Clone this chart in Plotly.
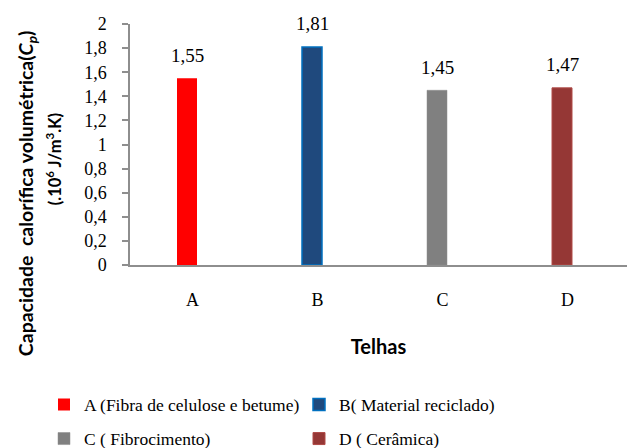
import numpy as np
import plotly.graph_objects as go

# Roof tile samples and their volumetric heat capacity (x10^6 J/m3.K)
categories = ["A", "B", "C", "D"]
legend_names = [
    "A (Fibra de celulose e betume)",
    "B( Material reciclado)",
    "C ( Fibrocimento)",
    "D ( Cerâmica)",
]
values = [1.55, 1.81, 1.45, 1.47]
value_labels = ["1,55", "1,81", "1,45", "1,47"]

fill_colors = ["#FF0000", "#1F497D", "#808080", "#953735"]
edge_colors = ["#FF0000", "#0070C0", "#8C8C8C", "#B04A47"]
edge_widths = [0, 1.5, 0.5, 1]

SERIF = "'Liberation Serif', 'Times New Roman', 'DejaVu Serif', serif"
SANS = "Lato, 'Open Sans', 'Liberation Sans', sans-serif"

W, H = 627, 448
M_L, M_R, M_T, M_B = 130, 0, 23.5, 183
plot_w = W - M_L - M_R
plot_h = H - M_T - M_B
cat_px = 125.0  # pixel width of one category slot
bar_w = 0.16
bar_shift = -0.044

x_idx = np.arange(len(categories))


def py(pixel_y):
    """Convert a page pixel row to paper y."""
    return (M_T + plot_h - pixel_y) / plot_h


def px(pixel_x):
    """Convert a page pixel column to paper x."""
    return (pixel_x - M_L) / plot_w


fig = go.Figure()
legend_ids = ["legend", "legend", "legend2", "legend2"]
for i, name in enumerate(legend_names):
    fig.add_trace(go.Bar(
        x=[x_idx[i] + bar_shift],
        y=[values[i]],
        width=bar_w,
        name=name,
        marker=dict(color=fill_colors[i],
                    line=dict(color=edge_colors[i], width=edge_widths[i])),
        legend=legend_ids[i],
        hoverinfo="skip",
    ))

# value labels above each bar
for i in range(len(categories)):
    fig.add_annotation(
        x=x_idx[i] + bar_shift, y=values[i], text=value_labels[i],
        showarrow=False, yanchor="middle", yshift=23,
        font=dict(family=SERIF, size=19, color="black"),
    )

# two-line y axis title
fig.add_annotation(
    xref="paper", yref="paper", x=px(27), y=py(193),
    text="<b>Capacidade\u00a0\u00a0calorífica volumétrica(<i>C<sub>p</sub></i>)</b>",
    textangle=-90, showarrow=False, xanchor="center", yanchor="middle",
    font=dict(family=SANS, size=19.5, color="black"),
)
fig.add_annotation(
    xref="paper", yref="paper", x=px(54), y=py(159),
    text="<b>(.10<sup>6</sup> J/m<sup>3</sup>.K)</b>",
    textangle=-90, showarrow=False, xanchor="center", yanchor="middle",
    font=dict(family=SANS, size=16.5, color="black"),
)

axis_line = "#8E8E8E"
legend_common = dict(
    orientation="h", xanchor="left", yanchor="top",
    entrywidth=210, entrywidthmode="pixels",
    font=dict(family=SERIF, size=17.5, color="black"),
    bgcolor="rgba(0,0,0,0)", traceorder="normal",
)
fig.update_layout(
    width=W, height=H,
    margin=dict(l=M_L, r=M_R, t=M_T, b=M_B, autoexpand=False),
    paper_bgcolor="white", plot_bgcolor="white",
    barmode="overlay",
    separators=",.",
    showlegend=True,
    xaxis=dict(
        range=[-0.5, -0.5 + plot_w / cat_px],
        tickvals=x_idx, ticktext=categories,
        showgrid=False, zeroline=False,
        showline=True, linecolor=axis_line, linewidth=1.5,
        ticks="", ticklabelstandoff=18,
        tickfont=dict(family=SERIF, size=18, color="black"),
        title=dict(text="<b>Telhas</b>", standoff=31,
                   font=dict(family=SANS, size=20, color="black")),
    ),
    yaxis=dict(
        range=[0, 2], dtick=0.2, tick0=0,
        showgrid=False, zeroline=False,
        showline=True, linecolor=axis_line, linewidth=1.5,
        ticks="outside", ticklen=6, tickwidth=1.5, tickcolor=axis_line,
        ticklabelstandoff=12,
        tickfont=dict(family=SERIF, size=18, color="black"),
    ),
    legend=dict(x=px(44), y=py(387), **legend_common),
    legend2=dict(x=px(44), y=py(421), **legend_common),
)

fig.write_html("out.html")
